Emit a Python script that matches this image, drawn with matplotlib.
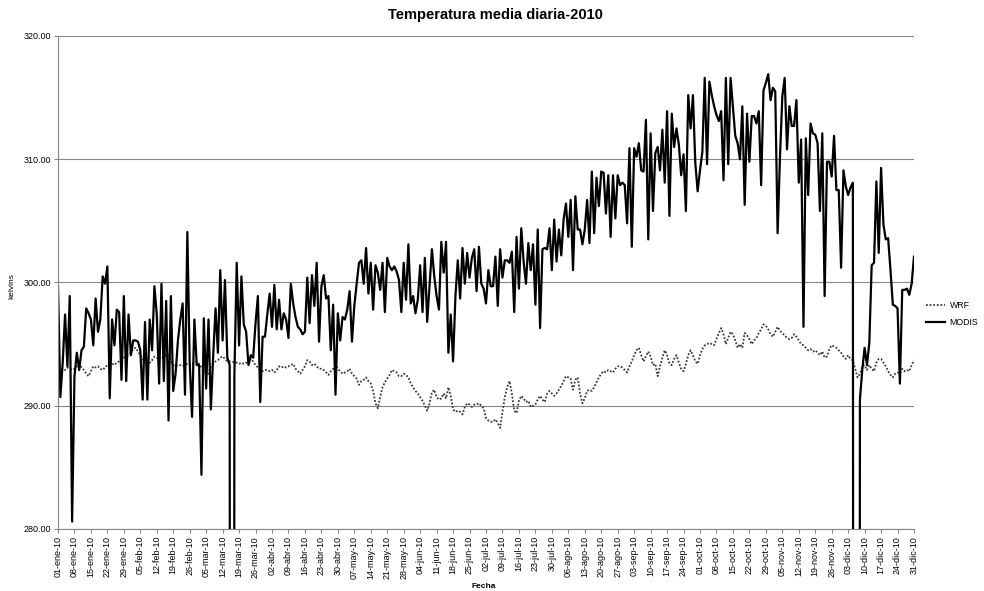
import datetime as dt
import numpy as np
import matplotlib.pyplot as plt

plt.rcParams['font.family'] = ['Liberation Sans', 'DejaVu Sans']

MESES = ["ene", "feb", "mar", "abr", "may", "jun",
         "jul", "ago", "sep", "oct", "nov", "dic"]

# temperatura media diaria (K), un bloque por mes
modis_ene = [299.7, 290.7, 293.5, 297.4, 293.2, 298.9, 280.6, 292.4, 294.3, 292.9,
             294.5, 294.8, 297.9, 297.5, 297.0, 294.9, 298.7, 296.0, 297.0, 300.5,
             299.9, 301.3, 290.6, 297.0, 294.9, 297.8, 297.6, 292.1, 298.9, 292.0,
             297.4]
modis_feb = [294.1, 295.3, 295.3, 295.2, 294.5, 290.5, 296.8, 290.5, 297.0, 294.5,
             299.7, 297.4, 291.8, 299.9, 292.0, 298.5, 288.8, 298.9, 291.2, 292.6,
             295.3, 297.0, 298.3, 290.9, 304.1, 293.5, 289.1, 297.0]
modis_mar = [293.3, 293.3, 284.4, 297.1, 291.4, 297.0, 289.7, 294.1, 297.9, 294.3,
             301.0, 295.3, 300.2, 293.9, 293.3, 0.0, 292.4, 301.6, 294.9, 300.5,
             296.6, 296.0, 293.3, 294.1, 293.9, 296.7, 298.9, 290.3, 295.6, 295.6,
             297.4]
modis_abr = [299.1, 296.4, 299.8, 296.2, 298.6, 296.2, 297.5, 297.0, 295.5, 299.9,
             298.3, 297.2, 296.4, 296.2, 295.8, 296.0, 300.4, 296.7, 300.6, 298.1,
             301.6, 295.2, 299.7, 300.6, 298.7, 298.9, 294.5, 298.2, 290.9, 297.5]
modis_may = [295.3, 297.2, 297.0, 297.8, 299.3, 295.2, 298.1, 299.9, 301.6, 301.8,
             299.9, 302.8, 299.1, 301.6, 297.8, 301.4, 300.8, 299.4, 301.6, 297.6,
             302.0, 301.3, 301.0, 301.3, 300.9, 300.2, 297.6, 301.6, 298.6, 303.1,
             298.3]
modis_jun = [298.9, 297.5, 298.6, 301.4, 297.6, 302.0, 296.8, 299.7, 302.7, 300.5,
             298.9, 297.8, 303.3, 300.8, 303.3, 294.3, 297.4, 293.6, 298.9, 301.8,
             298.7, 302.8, 299.9, 302.4, 300.4, 302.0, 302.7, 299.3, 302.9, 299.9]
modis_jul = [299.5, 298.3, 301.0, 299.7, 299.7, 302.1, 298.1, 302.7, 300.4, 301.8,
             301.8, 301.6, 302.5, 297.6, 303.7, 299.5, 304.4, 301.7, 299.9, 303.2,
             301.0, 303.1, 298.2, 304.3, 296.3, 302.7, 302.8, 302.7, 304.4, 301.0,
             305.1]
modis_ago = [301.7, 304.3, 302.2, 305.1, 306.4, 303.7, 306.7, 301.0, 307.0, 304.3,
             304.3, 303.1, 304.3, 306.7, 303.2, 309.0, 304.0, 308.5, 306.2, 309.0,
             308.9, 305.6, 308.7, 303.7, 308.7, 305.2, 308.7, 307.9, 308.1, 307.9,
             304.8]
modis_sep = [310.9, 302.9, 310.9, 310.2, 311.3, 309.1, 309.0, 313.2, 303.5, 312.1,
             305.8, 310.5, 311.0, 309.1, 312.4, 308.1, 313.9, 305.4, 313.7, 311.0,
             312.5, 311.2, 308.7, 310.4, 305.8, 315.2, 312.5, 315.2, 309.7, 307.4]
modis_oct = [309.1, 310.6, 316.6, 309.6, 316.3, 315.2, 314.3, 313.6, 313.1, 313.9,
             308.3, 316.6, 309.6, 316.6, 314.2, 311.9, 311.3, 310.0, 314.3, 306.3,
             313.7, 309.8, 313.5, 313.5, 312.9, 313.9, 307.9, 315.6, 316.2, 316.9,
             314.8]
modis_nov = [315.8, 315.5, 304.0, 310.1, 315.1, 316.6, 310.8, 314.3, 312.7, 312.7,
             314.8, 308.1, 311.6, 296.4, 311.7, 307.1, 312.9, 312.1, 312.0, 311.3,
             305.8, 312.1, 298.9, 309.8, 309.8, 308.6, 311.9, 307.5, 307.5, 301.2]
modis_dic = [309.1, 307.8, 307.1, 307.7, 308.1, 0.0, 0.0, 290.5, 292.9, 294.7,
             293.3, 295.1, 301.4, 301.6, 308.2, 302.4, 309.3, 304.7, 303.5, 303.6,
             301.0, 298.2, 298.1, 297.9, 291.8, 299.4, 299.4, 299.5, 299.0, 299.9,
             302.1]

wrf_ene = [293.0, 292.9, 293.0, 292.9, 293.1, 293.0, 292.9, 293.0, 293.2, 293.4,
           293.1, 292.9, 292.6, 292.4, 292.8, 293.2, 293.1, 293.2, 293.0, 292.9,
           293.1, 293.3, 293.3, 293.4, 293.3, 293.5, 293.6, 293.7, 293.9, 294.0,
           294.1]
wrf_feb = [294.3, 294.6, 294.7, 294.4, 294.1, 293.8, 293.5, 293.3, 293.5, 293.7,
           294.0, 293.9, 293.7, 293.8, 294.0, 294.1, 294.1, 293.6, 293.3, 293.2,
           293.3, 293.3, 293.2, 293.3, 293.4, 293.3, 293.4, 293.5]
wrf_mar = [293.6, 293.4, 293.1, 292.8, 292.7, 292.6, 293.2, 293.4, 293.6, 293.7,
           293.9, 294.0, 293.8, 293.6, 293.6, 293.6, 293.5, 293.5, 293.4, 293.5,
           293.4, 293.5, 293.4, 293.8, 293.6, 293.3, 293.1, 292.9, 292.8, 292.9,
           292.9]
wrf_abr = [292.8, 292.9, 292.7, 292.9, 293.2, 293.1, 293.2, 293.1, 293.2, 293.3,
           293.4, 293.0, 292.8, 292.6, 292.9, 293.2, 293.7, 293.6, 293.3, 293.4,
           293.2, 293.0, 293.0, 292.9, 292.7, 292.5, 292.8, 293.0, 293.3, 293.0]
wrf_may = [292.8, 292.6, 292.7, 292.8, 293.0, 292.6, 292.4, 292.2, 291.7, 292.0,
           292.1, 292.3, 292.0, 291.8, 291.2, 290.2, 289.8, 290.7, 291.5, 291.9,
           292.2, 292.5, 292.9, 292.8, 292.7, 292.4, 292.4, 292.6, 292.5, 292.3,
           291.8]
wrf_jun = [291.5, 291.2, 291.0, 290.7, 290.4, 290.0, 289.6, 290.2, 291.1, 291.3,
           290.7, 290.5, 290.6, 291.0, 290.6, 291.5, 290.8, 289.7, 289.5, 289.6,
           289.5, 289.3, 289.9, 290.2, 290.1, 289.9, 290.1, 290.1, 290.2, 290.0]
wrf_jul = [289.8, 289.0, 288.8, 288.7, 288.7, 288.9, 288.6, 288.2, 289.5, 290.7,
           291.5, 292.0, 291.0, 289.6, 289.4, 290.4, 290.8, 290.6, 290.3, 290.4,
           289.9, 290.0, 290.1, 290.5, 290.8, 290.5, 290.3, 291.0, 291.2, 291.0,
           290.8]
wrf_ago = [291.0, 291.3, 291.6, 292.0, 292.4, 292.3, 292.2, 291.3, 292.1, 292.3,
           291.0, 290.2, 290.6, 291.2, 291.3, 291.2, 291.5, 291.9, 292.3, 292.6,
           292.8, 292.7, 292.9, 292.8, 292.7, 293.0, 293.2, 293.2, 293.1, 292.9,
           292.7]
wrf_sep = [293.2, 293.6, 294.1, 294.5, 294.7, 294.1, 293.6, 294.0, 294.4, 294.0,
           293.3, 293.4, 292.4, 293.2, 293.9, 294.5, 294.1, 293.4, 293.3, 293.8,
           294.1, 293.5, 293.0, 292.8, 293.4, 294.1, 294.5, 294.1, 293.6, 293.4]
wrf_oct = [294.1, 294.6, 294.9, 295.0, 295.1, 295.0, 294.9, 295.4, 295.9, 296.3,
           295.8, 295.0, 295.5, 296.0, 295.8, 295.3, 294.7, 295.0, 294.7, 295.9,
           295.7, 295.4, 295.0, 295.3, 295.5, 295.9, 296.2, 296.6, 296.5, 296.2,
           295.8]
wrf_nov = [295.6, 296.0, 296.4, 296.1, 295.9, 295.7, 295.5, 295.4, 295.5, 295.8,
           295.6, 295.3, 295.0, 294.9, 294.7, 294.5, 294.6, 294.4, 294.5, 294.3,
           294.1, 294.4, 293.9, 294.0, 294.6, 294.9, 294.8, 294.7, 294.5, 294.3]
wrf_dic = [294.0, 293.8, 294.1, 293.8, 293.7, 293.0, 292.3, 292.6, 293.2, 293.3,
           292.9, 293.3, 293.0, 292.8, 293.5, 293.8, 293.8, 293.5, 293.2, 292.8,
           292.5, 292.3, 292.6, 292.7, 292.6, 293.0, 292.8, 292.9, 292.8, 293.3,
           293.7]

modis = np.array(modis_ene + modis_feb + modis_mar + modis_abr + modis_may + modis_jun
                 + modis_jul + modis_ago + modis_sep + modis_oct + modis_nov + modis_dic)
wrf = np.array(wrf_ene + wrf_feb + wrf_mar + wrf_abr + wrf_may + wrf_jun
               + wrf_jul + wrf_ago + wrf_sep + wrf_oct + wrf_nov + wrf_dic)

fechas = [dt.date(2010, 1, 1) + dt.timedelta(days=i) for i in range(len(modis))]
dias = np.arange(len(fechas))
etiquetas = [f"{f.day:02d}-{MESES[f.month - 1]}-{f.year % 100:02d}" for f in fechas]

gris = "#868686"

fig = plt.figure(figsize=(9.84, 5.91), dpi=100)
ax = fig.add_axes([58 / 984, 1 - 529 / 591, (914 - 58) / 984, (529 - 36) / 591])

ax.plot(dias, wrf, color="#3a3a3a", lw=1.3, linestyle=(0, (1, 1)), label="WRF")
ax.plot(dias, modis, color="black", lw=1.6, label="MODIS")

ax.set_xlim(0, len(dias) - 1)
ax.set_ylim(280, 320)
ax.set_yticks([280, 290, 300, 310, 320])
ax.set_yticklabels([f"{v:.2f}" for v in [280, 290, 300, 310, 320]], fontsize=6.5)
ax.set_xticks(dias[::7])
ax.set_xticklabels(etiquetas[::7], rotation=90, fontsize=6.5)
ax.tick_params(axis="both", length=3, width=0.8, color=gris, pad=2)

ax.grid(axis="y", color=gris, lw=0.8)
ax.set_axisbelow(True)
for s in ["top", "right"]:
    ax.spines[s].set_visible(False)
for s in ["left", "bottom"]:
    ax.spines[s].set_color(gris)
    ax.spines[s].set_linewidth(0.8)

fig.text(495 / 984, 1 - 15 / 591, "Temperatura media diaria-2010",
         ha="center", va="center", fontsize=10.5, fontweight="bold")
fig.text(12 / 984, 1 - 286 / 591, "kelvins", rotation=90,
         ha="center", va="center", fontsize=6)
fig.text(484 / 984, 1 - 586 / 591, "Fecha", ha="center", va="center",
         fontsize=6, fontweight="bold")

fig.legend(loc="center left", bbox_to_anchor=(926 / 984, 1 - 314 / 591),
           frameon=False, fontsize=6.3, handlelength=2.2, handletextpad=0.5,
           labelspacing=1.0, borderaxespad=0, borderpad=0)

fig.savefig("out.png", dpi=100)
